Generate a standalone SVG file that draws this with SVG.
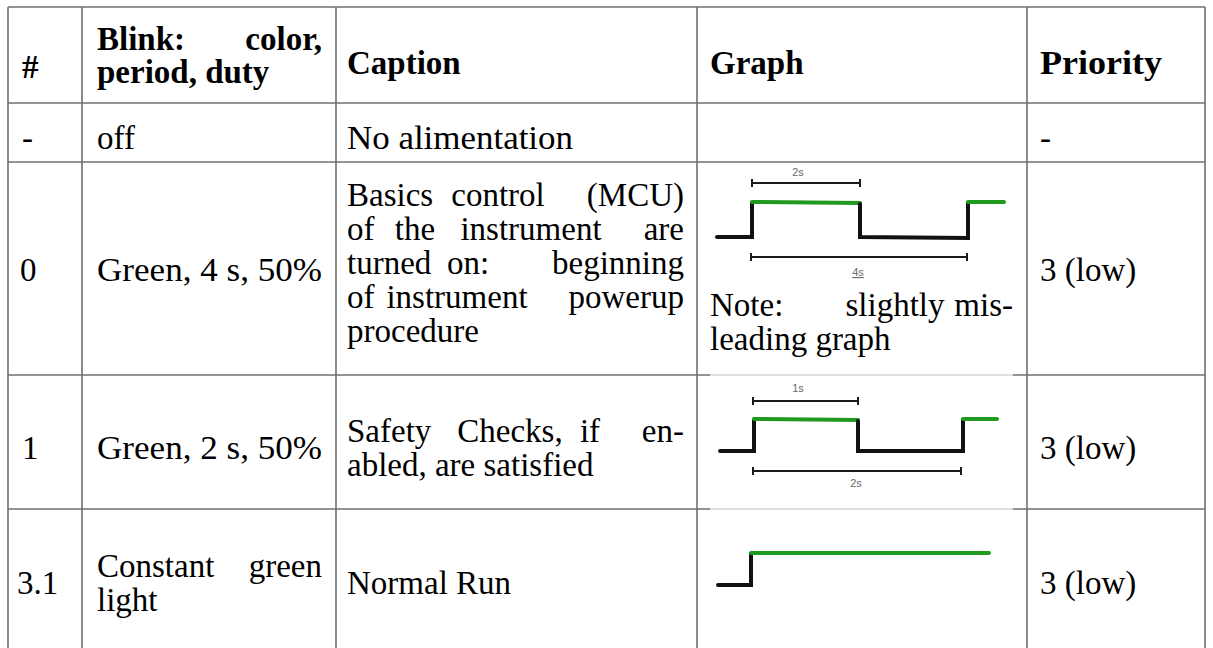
<svg xmlns="http://www.w3.org/2000/svg" width="1213" height="648" viewBox="0 0 1213 648">
  <style>
    .grid { stroke: #6f6f6f; stroke-width: 1.6; fill: none; }
    .veil { stroke: #d4d4d4; stroke-width: 1.4; fill: none; }
    .t { font-family: "Liberation Serif", "Times New Roman", serif; font-size: 33px; fill: #000; }
    .b { font-weight: bold; }
    .e { text-anchor: end; }
    .m { text-anchor: middle; }
    .lbl { font-family: "Liberation Sans", Arial, sans-serif; font-size: 11px; fill: #6a6a6a; text-anchor: middle; }
    .lo { stroke: #111; stroke-width: 4; fill: none; stroke-linecap: round; stroke-linejoin: miter; }
    .hi { stroke: #1f9a1f; stroke-width: 4; fill: none; stroke-linecap: round; }
    .dim { stroke: #1a1a1a; stroke-width: 2; fill: none; }
  </style>

  <rect width="1213" height="648" fill="#fff"/>

  <!-- table rules -->
  <g id="grid">
    <line class="grid" x1="8" y1="7" x2="1205" y2="7"/>
    <line class="grid" x1="8" y1="103" x2="1205" y2="103"/>
    <line class="grid" x1="8" y1="162" x2="1205" y2="162"/>
    <line class="grid" x1="8" y1="375" x2="710" y2="375"/>
    <line class="veil" x1="710" y1="375" x2="1013" y2="375"/>
    <line class="grid" x1="1013" y1="375" x2="1205" y2="375"/>
    <line class="grid" x1="8" y1="509" x2="710" y2="509"/>
    <line class="veil" x1="710" y1="509" x2="1013" y2="509"/>
    <line class="grid" x1="1013" y1="509" x2="1205" y2="509"/>
    <line class="grid" x1="8" y1="7" x2="8" y2="648"/>
    <line class="grid" x1="82" y1="7" x2="82" y2="648"/>
    <line class="grid" x1="336" y1="7" x2="336" y2="648"/>
    <line class="grid" x1="697" y1="7" x2="697" y2="648"/>
    <line class="grid" x1="1027" y1="7" x2="1027" y2="648"/>
    <line class="grid" x1="1205" y1="7" x2="1205" y2="648"/>
  </g>

  <!-- header row -->
  <g id="header">
    <text class="t b" x="22" y="78">#</text>
    <text class="t b" x="97" y="50">Blink:</text>
    <text class="t b e" x="322" y="50">color,</text>
    <text class="t b" x="97" y="83">period, duty</text>
    <text class="t b" x="347" y="74">Caption</text>
    <text class="t b" x="710" y="74">Graph</text>
    <text class="t b" x="1040" y="74" textLength="122" lengthAdjust="spacingAndGlyphs">Priority</text>
  </g>

  <!-- state: off -->
  <g id="row-off">
    <text class="t" x="22" y="149">-</text>
    <text class="t" x="97" y="149">off</text>
    <text class="t" x="347" y="149" textLength="226" lengthAdjust="spacingAndGlyphs">No alimentation</text>
    <text class="t" x="1040" y="149">-</text>
  </g>

  <!-- state 0 -->
  <g id="row-0">
    <text class="t" x="20" y="281">0</text>
    <text class="t" x="97" y="281" textLength="225" lengthAdjust="spacingAndGlyphs">Green, 4 s, 50%</text>

    <text class="t" x="347" y="206">Basics</text>
    <text class="t m" x="498" y="206">control</text>
    <text class="t e" x="684" y="206">(MCU)</text>

    <text class="t" x="347" y="240">of</text>
    <text class="t m" x="415" y="240">the</text>
    <text class="t m" x="531" y="240">instrument</text>
    <text class="t e" x="684" y="240">are</text>

    <text class="t" x="347" y="274">turned</text>
    <text class="t m" x="468" y="274">on:</text>
    <text class="t e" x="684" y="274">beginning</text>

    <text class="t" x="347" y="308">of</text>
    <text class="t m" x="457" y="308">instrument</text>
    <text class="t e" x="684" y="308">powerup</text>

    <text class="t" x="347" y="342">procedure</text>

    <g id="graph-0">
      <text class="lbl" x="798" y="176">2s</text>
      <path class="dim" d="M752,183 H860 M752,179 V187 M860,179 V187"/>
      <path class="lo" d="M717,237 H752 V203"/>
      <path class="hi" d="M752,202 L860,203"/>
      <path class="lo" d="M860,204 V237 L968,238 V203"/>
      <path class="hi" d="M968,202 H1004"/>
      <path class="dim" d="M751,257 H967 M751,253 V261 M967,253 V261"/>
      <text class="lbl" x="858" y="276" text-decoration="underline">4s</text>
    </g>
    <text class="t" x="710" y="316">Note:</text>
    <text class="t m" x="895" y="316">slightly</text>
    <text class="t e" x="1013" y="316">mis-</text>
    <text class="t" x="710" y="350">leading graph</text>

    <text class="t" x="1040" y="281">3 (low)</text>
  </g>

  <!-- state 1 -->
  <g id="row-1">
    <text class="t" x="22" y="459">1</text>
    <text class="t" x="97" y="459" textLength="225" lengthAdjust="spacingAndGlyphs">Green, 2 s, 50%</text>

    <text class="t" x="347" y="442">Safety</text>
    <text class="t m" x="510" y="442">Checks,</text>
    <text class="t m" x="590" y="442">if</text>
    <text class="t e" x="684" y="442">en-</text>
    <text class="t" x="347" y="476">abled, are satisfied</text>

    <g id="graph-1">
      <text class="lbl" x="798" y="392">1s</text>
      <path class="dim" d="M753,401 H858 M753,397 V405 M858,397 V405"/>
      <path class="lo" d="M720,451 H754 V420"/>
      <path class="hi" d="M754,419 L858,420"/>
      <path class="lo" d="M858,421 V451 H963 V420"/>
      <path class="hi" d="M963,419 H997"/>
      <path class="dim" d="M753,471 H961 M753,467 V475 M961,467 V475"/>
      <text class="lbl" x="856" y="487">2s</text>
    </g>

    <text class="t" x="1040" y="459">3 (low)</text>
  </g>

  <!-- state 3.1 -->
  <g id="row-3-1">
    <text class="t" x="17" y="594">3.1</text>
    <text class="t" x="97" y="577">Constant</text>
    <text class="t e" x="322" y="577">green</text>
    <text class="t" x="97" y="611">light</text>
    <text class="t" x="347" y="594">Normal Run</text>

    <g id="graph-3-1">
      <path class="lo" d="M718,585 H751 V554"/>
      <path class="hi" d="M751,553 H989"/>
    </g>

    <text class="t" x="1040" y="594">3 (low)</text>
  </g>
</svg>
